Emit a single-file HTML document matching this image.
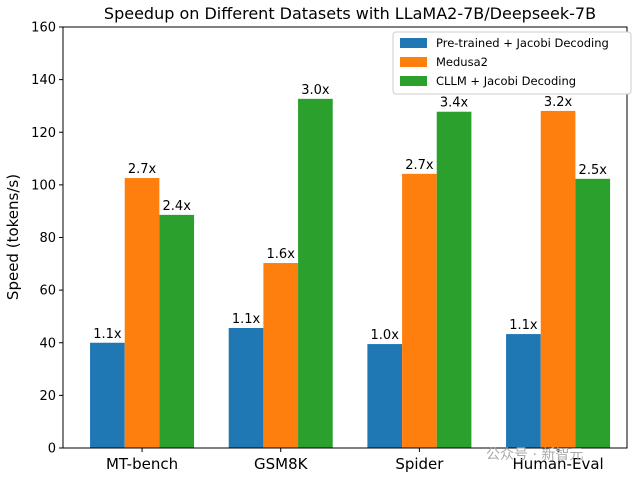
<!DOCTYPE html>
<html><head><meta charset="utf-8"><style>
body{margin:0;background:#fff}
text{font-family:"DejaVu Sans","Liberation Sans",sans-serif}
</style></head><body>
<svg id="c" width="640" height="480" xmlns="http://www.w3.org/2000/svg">
<rect width="640" height="480" fill="#fff"/>
<text x="350" y="19" text-anchor="middle" font-size="16">Speedup on Different Datasets with LLaMA2-7B/Deepseek-7B</text>
<text transform="translate(18,237) rotate(-90)" text-anchor="middle" font-size="15">Speed (tokens/s)</text>
<g id="plot"></g>
</svg>
<script>
const categories=["MT-bench","GSM8K","Spider","Human-Eval"];
const seriesNames=["Pre-trained + Jacobi Decoding","Medusa2","CLLM + Jacobi Decoding"];
const pretrained=[40,45.6,39.5,43.3];
const medusa=[102.6,70.3,104.2,128.1];
const cllm=[88.6,132.7,127.8,102.3];
const speedPre=["1.1x","1.1x","1.0x","1.1x"];
const speedMed=["2.7x","1.6x","2.7x","3.2x"];
const speedCllm=["2.4x","3.0x","3.4x","2.5x"];
const yTicks=[0,20,40,60,80,100,120,140,160];
const colors=["#1f77b4","#ff7f0e","#2ca02c"];
const L=63,R=627,T=27,B=448,ymax=160,xmin=-0.57,xmax=3.497;
const ns="http://www.w3.org/2000/svg",g=document.getElementById('plot');
const X=v=>L+(v-xmin)/(xmax-xmin)*(R-L);
const Y=v=>B-v/ymax*(B-T);
function el(t,a,txt){const e=document.createElementNS(ns,t);for(const k in a)e.setAttribute(k,a[k]);if(txt!=null)e.textContent=txt;g.appendChild(e);return e;}
const data=[pretrained,medusa,cllm],labs=[speedPre,speedMed,speedCllm],w=0.25;
data.forEach((s,si)=>s.forEach((v,i)=>{
 const c=i+(si-1)*w;
 const r=el('rect',{x:X(c-w/2),y:Y(v),width:X(c+w/2)-X(c-w/2),height:B-Y(v),fill:colors[si]});
 
 
 const t=el('text',{x:X(c),y:Y(v)-5,'text-anchor':'middle','font-size':13},labs[si][i]);
 
 
}));
const ax=el('rect',{x:L,y:T,width:R-L,height:B-T,fill:'none',stroke:'#000','stroke-width':1});


yTicks.forEach(v=>{
 el('line',{x1:L-4,x2:L,y1:Y(v),y2:Y(v),stroke:'#000'});
 const t=el('text',{x:L-7,y:Y(v)+4.5,'text-anchor':'end','font-size':13},v);
 
 
});
categories.forEach((c,i)=>{
 el('line',{x1:X(i),x2:X(i),y1:B,y2:B+4,stroke:'#000'});
 const t=el('text',{x:X(i),y:B+21,'text-anchor':'middle','font-size':15},c);
 
 
});
const lg=el('rect',{x:393,y:32,width:238,height:62,fill:'#fff',stroke:'#ccc',rx:3});


seriesNames.forEach((n,i)=>{
 el('rect',{x:400,y:38+i*19,width:27,height:10,fill:colors[i]});
 const t=el('text',{x:436,y:47+i*19,'font-size':11.5},n);
 
 
});
const wm=el('text',{x:486,y:459,'font-size':14,fill:'#aaa','font-family':'Liberation Sans, Noto Sans CJK SC, sans-serif'},"公众号 · 新智元");


</script>
</body></html>
